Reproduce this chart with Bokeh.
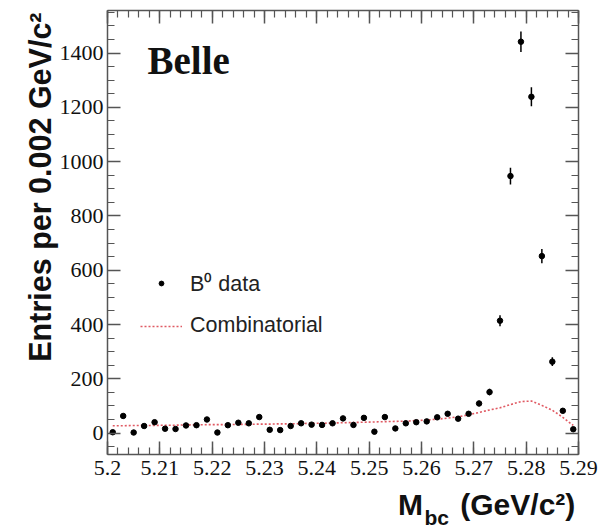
import json
from bokeh.plotting import figure
from bokeh.models import (Range1d, LinearAxis, SingleIntervalTicker, NumeralTickFormatter,
                          FixedTicker, CustomJSTickFormatter, Label, Legend, LegendItem,
                          ColumnDataSource, Title, CustomLabelingPolicy)
from bokeh.embed import file_html
from bokeh.resources import INLINE

# ---- data ----
mbc = [5.201, 5.203, 5.205, 5.207, 5.209, 5.211, 5.213, 5.215, 5.217, 5.219,
       5.221, 5.223, 5.225, 5.227, 5.229, 5.231, 5.233, 5.235, 5.237, 5.239,
       5.241, 5.243, 5.245, 5.247, 5.249, 5.251, 5.253, 5.255, 5.257, 5.259,
       5.261, 5.263, 5.265, 5.267, 5.269, 5.271, 5.273, 5.275, 5.277, 5.279,
       5.281, 5.283, 5.285, 5.287, 5.289]
entries = [3, 63, 2, 26, 40, 16, 15, 28, 29, 50,
           2, 29, 38, 36, 59, 12, 11, 26, 36, 31,
           30, 36, 54, 30, 56, 5, 59, 17, 36, 40,
           43, 58, 71, 53, 71, 109, 151, 414, 947, 1442,
           1239, 652, 263, 82, 14]
errors = [2, 8, 1, 5, 6, 4, 4, 5, 5, 7,
          1, 5, 6, 6, 8, 3, 3, 5, 6, 6,
          5, 6, 7, 5, 7, 2, 8, 4, 6, 6,
          7, 8, 8, 7, 8, 10, 12, 20, 31, 38,
          35, 26, 16, 9, 4]
combinatorial = [27, 27, 28, 28, 28, 29, 29, 30, 30, 31,
                 31, 31, 32, 32, 33, 33, 34, 34, 35, 36,
                 36, 37, 38, 39, 40, 41, 42, 43, 44, 46,
                 48, 51, 55, 60, 67, 76, 85, 93, 105, 116,
                 118, 102, 84, 58, 28]

x_tick_step = 0.01
y_tick_step = 200
# x-axis title pieces and where (in M_bc units) each piece is centred
x_title_parts = ["M", "(GeV/c²)"]
x_title_at = [5.2579, 5.2784]
x_title_sub = ["bc"]
x_title_sub_at = [5.2629]
y_title = "Entries per 0.002 GeV/c²"
data_label = "B⁰ data"
bkg_label = "Combinatorial"
exp_label = "Belle"

src = ColumnDataSource(dict(
    x=mbc, y=entries,
    lo=[v - e for v, e in zip(entries, errors)],
    hi=[v + e for v, e in zip(entries, errors)],
    bkg=combinatorial))

p = figure(width=600, height=532,
           x_range=Range1d(5.2, 5.29), y_range=Range1d(-79, 1557),
           output_backend="svg", toolbar_location=None,
           x_axis_type=None, y_axis_type=None,
           min_border_left=107, min_border_right=22,
           min_border_top=10, min_border_bottom=78)
p.outline_line_color = None
p.background_fill_color = "white"
p.border_fill_color = "white"

AX_COL = "#555555"


def make_axis(kind, show):
    if kind == "x":
        ax = LinearAxis(ticker=SingleIntervalTicker(interval=x_tick_step, num_minor_ticks=5),
                        formatter=NumeralTickFormatter(format="0.0[0]"))
    else:
        ax = LinearAxis(ticker=SingleIntervalTicker(interval=y_tick_step, num_minor_ticks=4))
    ax.axis_line_color = AX_COL
    ax.axis_line_width = 1.5
    ax.major_tick_line_color = AX_COL
    ax.minor_tick_line_color = AX_COL
    ax.major_tick_line_width = 1.5
    ax.minor_tick_line_width = 1.2
    ax.major_tick_in = 13
    ax.major_tick_out = 0
    ax.minor_tick_in = 7
    ax.minor_tick_out = 0
    ax.major_label_text_font = "Liberation Serif"
    ax.major_label_text_color = "#111111"
    if show:
        ax.major_label_text_font_size = "22px"
        ax.major_label_standoff = 4 if kind == "y" else 6
    else:
        ax.major_label_text_font_size = "1px"
        ax.major_label_standoff = 0
        ax.major_label_policy = CustomLabelingPolicy(code="return []")
    return ax


def title_axis(parts, where, size, standoff):
    ax = LinearAxis(ticker=FixedTicker(ticks=where),
                    formatter=CustomJSTickFormatter(
                        code="return %s[index];" % json.dumps(parts, ensure_ascii=False)))
    ax.axis_line_color = None
    ax.major_tick_line_color = None
    ax.minor_tick_line_color = None
    ax.major_tick_in = 0
    ax.major_tick_out = 0
    ax.major_label_text_font = "Liberation Sans"
    ax.major_label_text_font_style = "bold"
    ax.major_label_text_font_size = size
    ax.major_label_text_color = "#111111"
    ax.major_label_standoff = standoff
    return ax


p.add_layout(make_axis("x", True), "below")
p.add_layout(make_axis("x", False), "above")
p.add_layout(make_axis("y", True), "left")
p.add_layout(make_axis("y", False), "right")

# x title: "M (GeV/c²)" row, then the "bc" subscript row
p.add_layout(title_axis(x_title_parts, x_title_at, "30px", 10), "below")
p.add_layout(title_axis(x_title_sub, x_title_sub_at, "21px", -18), "below")

# y title (vertical, in the left panel)
p.add_layout(Title(text=y_title, align="right", vertical_align="bottom",
                   text_font="Liberation Sans", text_font_style="bold",
                   text_font_size="30.5px", text_color="#111111",
                   standoff=0, offset=2), "left")

bk = p.line("x", "bkg", source=src, line_color="#e05a63", line_width=1.6,
            line_dash="2 2")
p.segment(x0="x", y0="lo", x1="x", y1="hi", source=src,
          line_color="black", line_width=1.5)
pts = p.scatter("x", "y", source=src, size=5.5, marker="circle",
                fill_color="black", line_color="black")

legend = Legend(items=[LegendItem(label=data_label, renderers=[pts]),
                       LegendItem(label=bkg_label, renderers=[bk])],
                location=(33, 116), padding=0, margin=0, spacing=16,
                glyph_width=42, glyph_height=12, label_height=20,
                label_standoff=8, label_text_font="Liberation Sans",
                label_text_font_size="21.5px", label_text_color="#222222",
                background_fill_alpha=0, border_line_color=None)
p.add_layout(legend)

p.add_layout(Label(x=40, y=394, x_units="screen", y_units="screen", text=exp_label,
                   text_font="Liberation Serif", text_font_style="bold",
                   text_font_size="39px", text_color="#111111",
                   text_baseline="alphabetic", text_align="left"))

open("out.html", "w").write(file_html(p, INLINE))
